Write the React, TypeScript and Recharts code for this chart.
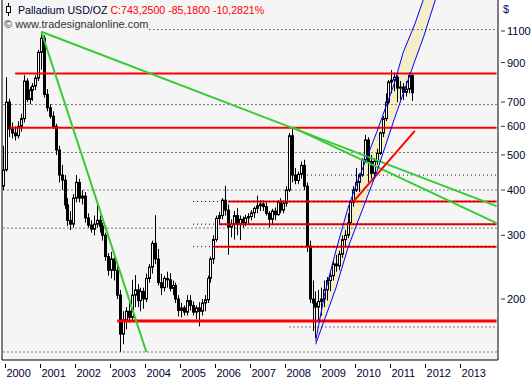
import { ComposedChart, Bar, Line, Area, XAxis, YAxis, CartesianGrid, ReferenceLine } from 'recharts';

// monthly categories Dec 1999 .. Jan 2014
const months: string[] = Array.from({ length: 170 }, (_, i) => {
  const t = 1999 * 12 + 11 + i;
  return `${Math.floor(t / 12)}-${String((t % 12) + 1).padStart(2, '0')}`;
});
const yearTicks = ['2000-01', '2001-01', '2002-01', '2003-01', '2004-01', '2005-01', '2006-01', '2007-01', '2008-01', '2009-01', '2010-01', '2011-01', '2012-01', '2013-01'];
const priceTicks = [200, 300, 400, 500, 600, 700, 800, 900, 1000, 1100];

// monthly candles from 1999-12 to 2011-08
const opens = [410, 455, 700, 590, 575, 565, 600, 630, 800, 712, 755, 775, 815, 960, 1050, 735, 675, 640, 600, 516, 440, 426, 364, 330, 322, 380, 420, 380, 385, 335, 320, 312, 322, 330, 318, 300, 262, 240, 258, 240, 205, 160, 175, 185, 178, 205, 212, 198, 210, 200, 228, 245, 285, 258, 222, 215, 228, 226, 214, 218, 200, 186, 189, 184, 198, 192, 184, 189, 185, 195, 199, 228, 258, 292, 334, 340, 375, 352, 316, 322, 340, 322, 332, 325, 335, 338, 346, 356, 362, 366, 360, 345, 332, 350, 342, 370, 352, 368, 400, 565, 440, 425, 442, 468, 410, 280, 200, 195, 190, 197, 200, 212, 225, 232, 250, 247, 266, 292, 300, 325, 370, 400, 420, 440, 485, 550, 480, 445, 480, 505, 575, 630, 700, 795, 805, 820, 765, 770, 745, 760, 828];
const highs = [530, 820, 715, 615, 600, 620, 650, 830, 815, 770, 790, 830, 975, 1095, 1070, 760, 690, 660, 610, 530, 470, 440, 380, 350, 390, 440, 430, 400, 395, 345, 330, 340, 365, 340, 325, 305, 268, 270, 262, 248, 212, 185, 190, 200, 226, 233, 220, 215, 215, 235, 250, 290, 341, 275, 235, 232, 238, 236, 225, 222, 205, 195, 192, 205, 205, 197, 192, 196, 200, 205, 232, 262, 300, 340, 348, 380, 411, 365, 332, 350, 357, 340, 338, 342, 345, 352, 360, 386, 375, 375, 370, 350, 355, 358, 375, 380, 375, 410, 575, 597, 460, 450, 480, 485, 420, 290, 225, 210, 212, 215, 225, 230, 240, 255, 265, 272, 300, 310, 345, 375, 410, 460, 445, 490, 568, 560, 500, 490, 520, 580, 640, 740, 805, 858, 845, 830, 800, 790, 800, 845, 842];
const lows = [400, 450, 560, 555, 548, 555, 580, 615, 700, 690, 705, 755, 800, 860, 720, 660, 630, 590, 500, 420, 400, 355, 318, 310, 315, 370, 370, 365, 325, 315, 305, 300, 315, 305, 290, 255, 232, 228, 225, 200, 143, 150, 165, 172, 175, 190, 190, 185, 188, 196, 222, 235, 250, 218, 205, 210, 215, 210, 205, 195, 179, 178, 180, 180, 186, 180, 176, 168, 180, 185, 195, 222, 250, 288, 320, 332, 340, 265, 296, 292, 300, 291, 315, 318, 322, 330, 335, 345, 350, 350, 340, 315, 320, 330, 340, 345, 345, 360, 395, 420, 415, 415, 430, 400, 270, 195, 163, 156, 175, 180, 190, 198, 210, 225, 238, 240, 260, 280, 295, 320, 360, 395, 395, 435, 480, 420, 430, 430, 470, 500, 560, 620, 690, 740, 750, 700, 710, 709, 725, 740, 705];
const closes = [455, 700, 590, 575, 565, 600, 630, 800, 712, 755, 775, 815, 960, 1050, 735, 675, 640, 600, 516, 440, 426, 364, 330, 322, 380, 420, 380, 385, 335, 320, 312, 322, 330, 318, 300, 262, 240, 258, 240, 205, 160, 175, 185, 178, 205, 212, 198, 210, 200, 228, 245, 285, 258, 222, 215, 228, 226, 214, 218, 200, 186, 189, 184, 198, 192, 184, 189, 185, 195, 199, 228, 258, 292, 334, 340, 375, 352, 316, 322, 340, 322, 332, 325, 335, 338, 346, 356, 362, 366, 360, 345, 332, 350, 342, 370, 352, 368, 400, 565, 440, 425, 442, 468, 410, 280, 200, 195, 190, 197, 200, 212, 225, 232, 250, 247, 266, 292, 300, 325, 370, 400, 420, 440, 485, 550, 480, 445, 480, 505, 575, 630, 700, 795, 805, 820, 765, 770, 745, 760, 828, 743];

// rising channel
const channelMonths = ['2008-11', '2009-02', '2009-06', '2009-10', '2010-01', '2010-08', '2011-02', '2011-05', '2011-09', '2011-12', '2012-04'];
const channelUpper = [153, 205, 273, 355, 415, 580, 790, 960, 1150, 1350, 1750];
const channelLower = [150, 175, 215, 276, 320, 450, 630, 738, 910, 1060, 1340];

// horizontal levels
const redLevels = [840, 595, 372, 322, 279, 174];
const redStarts = ['2000-04', '2000-02', '2006-05', '2006-02', '2005-12', '2003-03'];
const redWidths = [2, 2, 2, 2, 2, 3];
const dotLevels = [1110, 689, 508, 440, 400, 372, 322, 314, 279, 167.4, 142.8];
const dotStarts = ['2004-02', '1999-12', '1999-12', '2008-08', '1999-12', '2005-05', '2005-05', '1999-12', '2005-05', '2008-02', '1999-12'];

// trend lines [fromMonth, fromPrice, toMonth, toPrice]
const greenLines: [string, number, string, number][] = [
  ['2001-01', 1095, '2004-01', 142.5],
  ['2001-01', 1095, '2014-01', 361],
  ['2008-03', 597, '2014-01', 324],
];
const redTrend: [string, number, string, number] = ['2009-12', 372, '2011-09', 583];

const table = months.map((m, k) => {
  const row: any = { m };
  if (k < opens.length) {
    row.o = opens[k];
    row.h = highs[k];
    row.l = lows[k];
    row.c = closes[k];
    row.candle = [lows[k], highs[k]];
  }
  return row;
});

// channel rows on a month-index axis so they have no gaps
const channelRows = channelMonths.map((m, i) => ({
  k: months.indexOf(m),
  up: channelUpper[i],
  lo: channelLower[i],
  band: [channelLower[i], channelUpper[i]],
}));

const FONT = '"Liberation Sans", Arial, sans-serif';
const PLOT_BG = '#f5f5f5';

function Candle(props: any) {
  const { x, y, width, height, payload } = props;
  if (!payload || payload.o == null) return null;
  const cx = Math.round(x + width / 2) + 0.5;
  const lh = Math.log(payload.h);
  const span = lh - Math.log(payload.l) || 1;
  const py = (v: number) => y + (height * (lh - Math.log(v))) / span;
  const top = py(Math.max(payload.o, payload.c));
  const bot = py(Math.min(payload.o, payload.c));
  const up = payload.c >= payload.o;
  return (
    <g>
      <line x1={cx} x2={cx} y1={y} y2={y + height} stroke="#000" strokeWidth={1} />
      <rect x={cx - 1} y={top} width={2} height={Math.max(bot - top, 1)} fill={up ? '#fff' : '#000'} stroke="#000" strokeWidth={1} />
    </g>
  );
}

function YearTick(props: any) {
  const { x, y, payload } = props;
  const lx = Math.round(x - 1.5) + 0.5;
  return (
    <g>
      <line x1={lx} x2={lx} y1={y} y2={y + 4} stroke="#000" />
      <text x={x} y={y + 13} fontSize={11} fontFamily={FONT} fill="#000033" textAnchor="start">
        {String(payload.value).slice(0, 4)}
      </text>
    </g>
  );
}

function PriceTick(props: any) {
  const { x, y, payload } = props;
  return (
    <g>
      <line x1={x - 6} x2={x - 2} y1={y} y2={y} stroke="#333" />
      <text x={x} y={y + 4} fontSize={11} fontFamily={FONT} fill="#000033" textAnchor="start">
        {payload.value}
      </text>
    </g>
  );
}

export default function App() {
  return (
    <div style={{ position: 'absolute', left: 0, top: 0, width: 532, height: 380, background: '#fff' }}>
      <ComposedChart width={532} height={380} data={table} margin={{ top: 0, right: 0, bottom: 0, left: 0 }}>
        <CartesianGrid fill={PLOT_BG} horizontal={false} vertical={false} />
        <XAxis
          dataKey="m"
          ticks={yearTicks}
          interval={0}
          height={20}
          tickLine={false}
          tickSize={4}
          tickMargin={0}
          axisLine={{ stroke: '#000' }}
          tick={<YearTick />}
        />
        <XAxis xAxisId="chan" type="number" dataKey="k" domain={[-0.5, 169.5]} allowDataOverflow hide />
        <YAxis
          orientation="right"
          type="number"
          scale="log"
          domain={[135.7, 1340]}
          allowDataOverflow
          ticks={priceTicks}
          width={34}
          tickSize={4}
          tickMargin={5}
          axisLine={{ stroke: '#000' }}
          tickLine={false}
          tick={<PriceTick />}
        />
        <YAxis yAxisId="frame" orientation="left" type="number" scale="log" domain={[135.7, 1340]} width={2} tick={false} tickLine={false} axisLine={{ stroke: '#000' }} />

        <Area xAxisId="chan" data={channelRows} dataKey="band" fill="#f3edc9" fillOpacity={1} stroke="none" isAnimationActive={false} />

        {redLevels.map((v, i) => (
          <ReferenceLine
            key={'r' + i}
            segment={[{ x: redStarts[i], y: v }, { x: '2014-01', y: v }]}
            stroke="#ff0000"
            strokeWidth={redWidths[i]}
          />
        ))}

        <Bar dataKey="candle" shape={<Candle />} isAnimationActive={false} />

        {dotLevels.map((v, i) => (
          <ReferenceLine
            key={'d' + i}
            segment={[{ x: dotStarts[i], y: v }, { x: '2014-01', y: v }]}
            stroke="#000"
            strokeWidth={1}
            strokeDasharray="1 3"
          />
        ))}

        {greenLines.map((g, i) => (
          <ReferenceLine
            key={'g' + i}
            segment={[{ x: g[0], y: g[1] }, { x: g[2], y: g[3] }]}
            stroke="#33cc33"
            strokeWidth={2}
          />
        ))}
        <ReferenceLine
          segment={[{ x: redTrend[0], y: redTrend[1] }, { x: redTrend[2], y: redTrend[3] }]}
          stroke="#ff0000"
          strokeWidth={2}
        />

        <Line xAxisId="chan" data={channelRows} dataKey="up" dot={false} stroke="#0000ff" strokeWidth={1} isAnimationActive={false} />
        <Line xAxisId="chan" data={channelRows} dataKey="lo" dot={false} stroke="#0000ff" strokeWidth={1} isAnimationActive={false} />
      </ComposedChart>

      <div style={{ position: 'absolute', left: 4, top: 3, fontFamily: FONT, fontSize: 10.6, whiteSpace: 'nowrap', display: 'flex', alignItems: 'center' }}>
        <svg width={12} height={13} style={{ marginRight: 2 }}>
          <line x1={4.5} x2={4.5} y1={0} y2={13} stroke="#000" />
          <rect x={2.5} y={3.5} width={4} height={6} fill="#fff" stroke="#000" />
        </svg>
        <span style={{ color: '#000033' }}>Palladium USD/OZ&nbsp;</span>
        <span style={{ color: '#ff0000' }}>C:743,2500 -85,1800 -10,2821%</span>
      </div>
      <div style={{ position: 'absolute', left: 4, top: 18, fontFamily: FONT, fontSize: 11, color: '#333', whiteSpace: 'nowrap' }}>
        © www.tradesignalonline.com
      </div>
      <div style={{ position: 'absolute', left: 503, top: 3, fontFamily: FONT, fontSize: 11, color: '#000066' }}>$</div>
    </div>
  );
}
